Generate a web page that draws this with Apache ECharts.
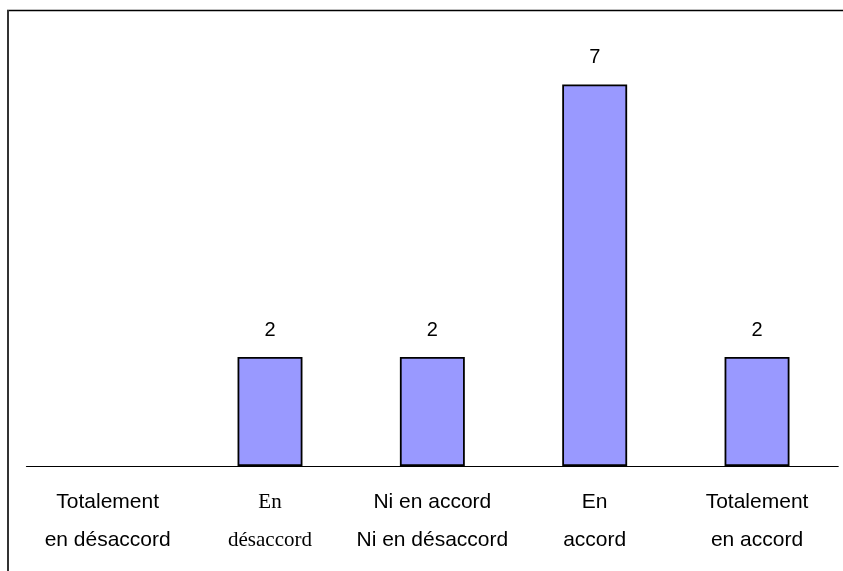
<!DOCTYPE html>
<html>
<head>
<meta charset="utf-8">
<script src="https://cdn.jsdelivr.net/npm/echarts@6/dist/echarts.min.js"></script>
<style>html,body{margin:0;padding:0;background:#fff}#c{width:843px;height:571px}</style>
</head>
<body>
<div id="c"></div>
<script>
const categories = ['Totalement\nen désaccord', 'En\ndésaccord', 'Ni en accord\nNi en désaccord', 'En\naccord', 'Totalement\nen accord'];
const serifCategoryIndex = [1];
const values = [0, 2, 2, 7, 2];
const yMax = 8;

const chart = echarts.init(document.getElementById('c'));
chart.setOption({
  animation: false,
  backgroundColor: '#fff',
  grid: {left: 26.5, right: 4.8, top: 30, bottom: 105},
  xAxis: {
    type: 'category',
    data: categories,
    axisTick: {show: false},
    axisLine: {lineStyle: {color: '#000', width: 1.2}},
    axisLabel: {
      margin: 17,
      interval: 0,
      formatter: function (v, i) {
        const style = serifCategoryIndex.indexOf(i) >= 0 ? 'serif' : 'sans';
        return v.split('\n').map(s => '{' + style + '|' + s + '}').join('\n');
      },
      rich: {
        sans: {fontFamily: 'Liberation Sans, Arial', fontSize: 21, lineHeight: 38, color: '#000'},
        serif: {fontFamily: 'Liberation Serif, Times New Roman', fontSize: 21, lineHeight: 38, color: '#000'}
      }
    }
  },
  yAxis: {type: 'value', min: 0, max: yMax, show: false, splitLine: {show: false}},
  series: [{
    type: 'bar',
    data: values.map(v => v ? v : {value: v, itemStyle: {borderWidth: 0}}),
    barWidth: '40%',
    itemStyle: {color: '#9999FF', borderColor: '#000', borderWidth: 1.8},
    label: {
      show: true,
      position: 'top',
      distance: 17,
      fontFamily: 'Liberation Sans, Arial',
      fontSize: 20,
      color: '#000',
      formatter: p => p.value ? String(p.value) : ''
    }
  }],
  graphic: [
    {type: 'line', shape: {x1: 7, y1: 10.5, x2: 843, y2: 10.5}, style: {stroke: '#000', lineWidth: 1.5}},
    {type: 'line', shape: {x1: 8, y1: 10, x2: 8, y2: 571}, style: {stroke: '#333', lineWidth: 2}}
  ]
});
</script>
</body>
</html>
